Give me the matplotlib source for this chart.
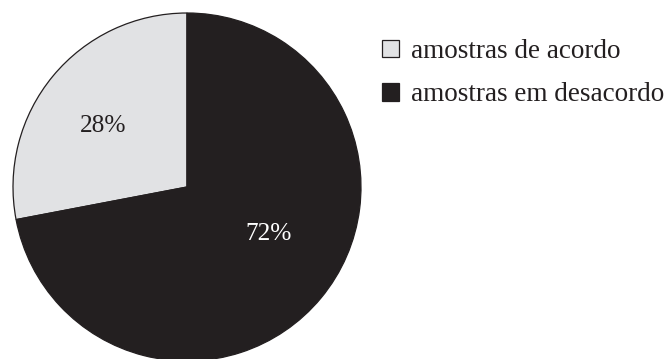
import matplotlib.pyplot as plt

# data
labels = ["amostras de acordo", "amostras em desacordo"]
values = [28, 72]
colors = ["#e1e2e4", "#231f20"]
text_colors = ["#231f20", "#ffffff"]

plt.rcParams["font.family"] = ["Liberation Serif", "DejaVu Serif"]

W, H = 665, 359
fig = plt.figure(figsize=(W / 100, H / 100), dpi=100)
fig.patch.set_facecolor("white")

# pie centred at (187, 187) px with radius 174 px
cx, cy, r = 187, 187, 174
ax = fig.add_axes([(cx - r) / W, (H - cy - r) / H, 2 * r / W, 2 * r / H])

wedges, texts, autotexts = ax.pie(
    values, colors=colors, startangle=90, counterclock=True,
    radius=1, autopct="%d%%", pctdistance=0.59,
    wedgeprops=dict(edgecolor="#231f20", linewidth=0.9),
    textprops=dict(fontsize=18.3),
)
# pie() widens the limits, put them back so radius 1 fills the axes
ax.set_xlim(-1, 1)
ax.set_ylim(-1, 1)
ax.set_aspect("equal")
ax.axis("off")

for t, c in zip(autotexts, text_colors):
    t.set_color(c)
# label spots as placed in the reference
autotexts[0].set_position((-0.48, 0.35))
autotexts[1].set_position((0.47, -0.27))

fig.legend(
    wedges, labels, loc="upper left",
    bbox_to_anchor=(382 / W, 1 - 39 / H),
    frameon=False, fontsize=19.5, borderpad=0, borderaxespad=0,
    handlelength=0.62, handleheight=0.62, handletextpad=0.45,
    labelspacing=0.68, labelcolor="#231f20",
)

fig.savefig("out.png", dpi=100, facecolor="white")
